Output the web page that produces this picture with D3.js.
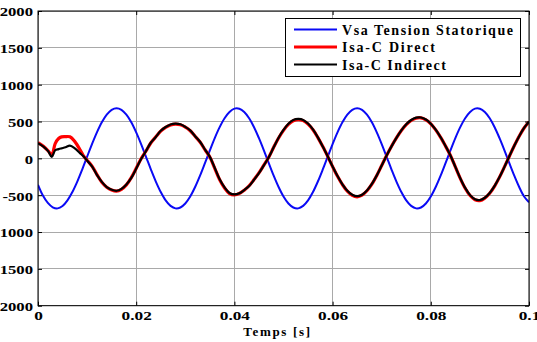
<!DOCTYPE html>
<html><head><meta charset="utf-8">
<script src="https://cdn.jsdelivr.net/npm/d3@7/dist/d3.min.js"></script>
<style>
body{margin:0;background:#fff;}
svg{display:block;}
text{font-family:"Liberation Serif","Times New Roman",serif;font-weight:bold;fill:#000;}
</style>
</head><body>
<svg id="chart" width="537" height="342"></svg>
<script>
// ---------- data ----------
const seriesNames = ["Vsa Tension Statorique", "Isa-C Direct", "Isa-C Indirect"];
const xTicks = [0, 0.02, 0.04, 0.06, 0.08, 0.1];
const xTickLabels = ["0", "0.02", "0.04", "0.06", "0.08", "0.1"];
const yTicks = [-2000, -1500, -1000, -500, 0, 500, 1000, 1500, 2000];
const yTickLabels = ["-2000", "-1500", "-1000", "-500", "0", "500", "1000", "1500", "2000"];
const xLabel = "Temps [s]";

const timeV = [0,0.001,0.002,0.003,0.004,0.005,0.006,0.007,0.008,0.009,
 0.010,0.011,0.012,0.013,0.014,0.015,0.016,0.017,0.018,0.019,
 0.020,0.021,0.022,0.023,0.024,0.025,0.026,0.027,0.028,0.029,
 0.030,0.031,0.032,0.033,0.034,0.035,0.036,0.037,0.038,0.039,
 0.040,0.041,0.042,0.043,0.044,0.045,0.046,0.047,0.048,0.049,
 0.050,0.051,0.052,0.053,0.054,0.055,0.056,0.057,0.058,0.059,
 0.060,0.061,0.062,0.063,0.064,0.065,0.066,0.067,0.068,0.069,
 0.070,0.071,0.072,0.073,0.074,0.075,0.076,0.077,0.078,0.079,
 0.080,0.081,0.082,0.083,0.084,0.085,0.086,0.087,0.088,0.089,
 0.090,0.091,0.092,0.093,0.094,0.095,0.096,0.097,0.098,0.099,0.100];
const vsa = [-360,-505,-605,-664,-679,-647,-570,-457,-315,-152,
 22,193,352,489,593,658,680,658,592,489,
 352,193,21,-152,-315,-457,-570,-645,-679,-667,
 -613,-518,-389,-235,-65,109,276,424,545,630,
 675,674,630,544,423,274,109,-65,-235,-389,
 -518,-613,-667,-679,-645,-570,-457,-314,-151,22,
 194,353,489,593,658,680,658,592,489,352,
 193,21,-152,-315,-457,-570,-645,-679,-667,-613,
 -518,-389,-235,-65,109,276,424,545,630,675,
 674,630,544,423,274,109,-65,-235,-389,-518,-595];

const timeI = [0,0.0011,0.0021,0.0028,0.0035,0.0042,0.0048,0.0056,0.0065,0.0075,0.0086,0.0093,
 0.010,0.011,0.012,0.013,0.014,0.015,0.016,0.017,0.018,0.019,
 0.020,0.021,0.022,0.023,0.024,0.025,0.026,0.027,0.028,0.029,
 0.030,0.031,0.032,0.033,0.034,0.035,0.036,0.037,0.038,0.039,
 0.040,0.041,0.042,0.043,0.044,0.045,0.046,0.047,0.048,0.049,
 0.050,0.051,0.052,0.053,0.054,0.055,0.056,0.057,0.058,0.059,
 0.060,0.061,0.062,0.063,0.064,0.065,0.066,0.067,0.068,0.069,
 0.070,0.071,0.072,0.073,0.074,0.075,0.076,0.077,0.078,0.079,
 0.080,0.081,0.082,0.083,0.084,0.085,0.086,0.087,0.088,0.089,
 0.090,0.091,0.092,0.093,0.094,0.095,0.096,0.097,0.098,0.099,0.100];
const isaDirect = [215,165,100,45,200,270,292,295,292,227,113,30,
 -25,-105,-220,-325,-392,-430,-445,-420,-360,-262,
 -135,-5,100,212,292,370,420,452,465,455,
 424,375,300,222,118,18,-135,-290,-402,-478,
 -496,-478,-432,-372,-288,-198,-92,15,150,276,
 380,460,510,525,512,465,388,282,160,27,
 -112,-244,-356,-446,-502,-522,-500,-440,-350,-232,
 -96,38,163,277,378,458,514,545,550,522,
 468,386,284,166,39,-117,-272,-406,-505,-562,
 -574,-540,-474,-376,-255,-116,29,170,300,412,498];
const isaIndirect = [205,160,95,20,110,125,136,150,172,136,68,25,
 -30,-110,-225,-320,-390,-425,-440,-415,-355,-265,
 -140,-10,100,215,290,375,425,460,470,462,
 428,380,300,225,120,20,-130,-285,-395,-470,
 -490,-475,-430,-375,-290,-200,-95,15,150,280,
 385,470,520,535,522,472,392,285,160,27,
 -110,-240,-352,-439,-493,-512,-493,-436,-347,-231,
 -98,38,163,278,380,462,520,552,555,527,
 471,389,286,167,39,-115,-269,-401,-499,-555,
 -565,-535,-471,-374,-254,-116,29,170,301,413,499];

// ---------- layout ----------
const W = 537, H = 342;
const L = 38, R = 529, T = 11, B = 305.7;
const svg = d3.select("#chart");
const x = d3.scaleLinear().domain([0, 0.1]).range([L, R]);
const y = d3.scaleLinear().domain([-2000, 2000]).range([B, T]);

svg.append("rect").attr("width", W).attr("height", H).attr("fill", "#fff");

// grid
const grid = svg.append("g").attr("stroke", "#a9a9a9").attr("stroke-width", 1).attr("shape-rendering", "crispEdges");
grid.selectAll(".gx").data(xTicks).join("line")
  .attr("x1", d => x(d)).attr("x2", d => x(d)).attr("y1", T).attr("y2", B);
grid.selectAll(".gy").data(yTicks).join("line")
  .attr("x1", L).attr("x2", R).attr("y1", d => y(d)).attr("y2", d => y(d));

// clip
svg.append("clipPath").attr("id", "clip").append("rect")
  .attr("x", L).attr("y", T).attr("width", R - L).attr("height", B - T);

const line = d3.line().x(d => x(d[0])).y(d => y(d[1])).curve(d3.curveCatmullRom.alpha(0.5));
const plot = svg.append("g").attr("clip-path", "url(#clip)");
plot.append("path").datum(timeV.map((t, i) => [t, vsa[i]]))
  .attr("d", line).attr("fill", "none").attr("stroke", "#0a0af5").attr("stroke-width", 2);
plot.append("path").datum(timeI.map((t, i) => [t, isaDirect[i]]))
  .attr("d", line).attr("fill", "none").attr("stroke", "#ff0000").attr("stroke-width", 3.2);
plot.append("path").datum(timeI.map((t, i) => [t, isaIndirect[i]]))
  .attr("d", line).attr("fill", "none").attr("stroke", "#000").attr("stroke-width", 2.2);

// axes
function stretchText(sel, factor, mode) {
  sel.each(function() {
    const len = this.getComputedTextLength();
    d3.select(this).attr("textLength", len * factor).attr("lengthAdjust", mode || "spacingAndGlyphs");
  });
}
const xAxis = svg.append("g").attr("transform", `translate(0,${B})`)
  .call(d3.axisBottom(x).tickValues(xTicks).tickFormat((d, i) => xTickLabels[i]).tickSizeInner(-4).tickSizeOuter(0).tickPadding(6));
const yAxis = svg.append("g").attr("transform", `translate(${L},0)`)
  .call(d3.axisLeft(y).tickValues(yTicks).tickFormat((d, i) => yTickLabels[i]).tickSizeInner(-4).tickSizeOuter(0).tickPadding(5));
const xTop = svg.append("g").attr("transform", `translate(0,${T})`)
  .call(d3.axisTop(x).tickValues(xTicks).tickFormat("").tickSizeInner(-4).tickSizeOuter(0));
const yRight = svg.append("g").attr("transform", `translate(${R},0)`)
  .call(d3.axisRight(y).tickValues(yTicks).tickFormat("").tickSizeInner(-4).tickSizeOuter(0));
[xAxis, yAxis, xTop, yRight].forEach(a => {
  a.select(".domain").remove();
  a.selectAll("line").attr("stroke", "#000");
  a.selectAll("text").attr("font-family", null).attr("font-size", null)
    .style("font-size", "11.5px");
});
yAxis.selectAll("text").attr("dy", "0.42em");
stretchText(xAxis.selectAll("text"), 1.5);
stretchText(yAxis.selectAll("text"), 1.45);

// box
svg.append("rect").attr("x", L).attr("y", T).attr("width", R - L).attr("height", B - T)
  .attr("fill", "none").attr("stroke", "#000").attr("stroke-width", 1);

// x label
const xl = svg.append("text").attr("x", 276.7).attr("y", 336).attr("text-anchor", "middle")
  .style("font-size", "13px").text(xLabel);
stretchText(xl, 1.25, "spacing");

// legend
const legColors = ["#0a0af5", "#ff0000", "#000"];
const legWidths = [2, 3, 2];
const legend = svg.append("g");
legend.append("rect").attr("x", 285.5).attr("y", 18.5).attr("width", 235).attr("height", 58)
  .attr("fill", "#fff").attr("stroke", "#000").attr("stroke-width", 1);
const legendTextWidths = [171, 93, 104];
seriesNames.forEach((name, i) => {
  const cy = 29.5 + i * 17.5;
  legend.append("line").attr("x1", 294).attr("x2", 337).attr("y1", cy).attr("y2", cy)
    .attr("stroke", legColors[i]).attr("stroke-width", legWidths[i]);
  legend.append("text").attr("x", 342).attr("y", cy + 5).style("font-size", "14px")
    .attr("textLength", legendTextWidths[i]).attr("lengthAdjust", "spacing").text(name);
});
</script>
</body></html>
